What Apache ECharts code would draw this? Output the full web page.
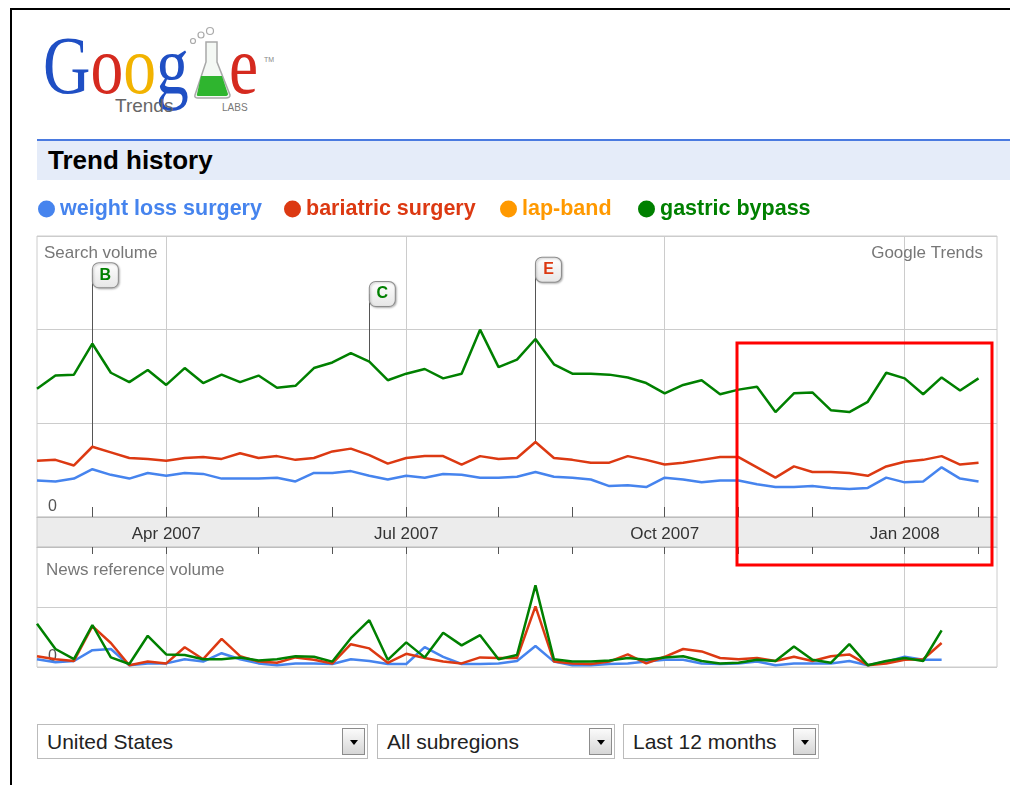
<!DOCTYPE html>
<html>
<head>
<meta charset="utf-8">
<title>Google Trends - Trend history</title>
<script src="https://cdn.jsdelivr.net/npm/echarts@6/dist/echarts.min.js"></script>
<style>
  html, body { margin: 0; padding: 0; background: #fff; }
  body { width: 1010px; height: 785px; position: relative; overflow: hidden;
         font-family: "Liberation Sans", Arial, sans-serif; }
  #frame { position: absolute; left: 10px; top: 8px; width: 1010px; height: 790px;
           border-left: 2px solid #000; border-top: 2px solid #000; }
  #logo { position: absolute; left: 0; top: 0; }
  #bar { position: absolute; left: 37px; top: 139px; width: 973px; height: 41px;
         background: #e5ecf9; border-top: 2px solid #4a7ae0;
         font-size: 26px; font-weight: bold; line-height: 39px; padding-left: 11px;
         box-sizing: border-box; color: #000; }
  .sel { position: absolute; top: 724px; height: 35px; border: 1px solid #bbb;
         box-sizing: border-box; font-size: 21px; line-height: 33px; padding-left: 9px; color: #222; }
  .sel .arr { position: absolute; right: 2px; top: 3px; width: 23px; height: 27px;
              border: 1px solid #8c8c8c; box-sizing: border-box;
              background: linear-gradient(#fbfbfb, #d6d6d6); }
  .sel .arr:after { content: ""; position: absolute; left: 7px; top: 11px;
                    border-left: 4px solid transparent; border-right: 4px solid transparent;
                    border-top: 5px solid #000; }
  #chart { position: absolute; left: 0; top: 0; width: 1010px; height: 785px; }
</style>
</head>
<body>
<div id="frame"></div>
<svg id="logo" width="300" height="130">
  <text transform="translate(43,93) scale(0.8,1)" font-family="Liberation Serif, serif" font-size="82"><tspan fill="#1f4fc4">G</tspan><tspan fill="#d52a1f">o</tspan><tspan fill="#f2b300">o</tspan><tspan fill="#1f4fc4">g</tspan></text>
  <path d="M206,42 L217,42 L217,62 L230,95 Q230,98 226,98 L198,98 Q194,98 195,95 L206,62 Z" fill="#f4f8f4" stroke="#a8a8a8" stroke-width="1.5"/>
  <path d="M201,76 L222,76 L228,94 Q228,96 225,96 L199,96 Q196,96 197,94 Z" fill="#2fb52f"/>
  <circle cx="193" cy="41" r="2.5" fill="none" stroke="#aaa" stroke-width="1.2"/>
  <circle cx="201" cy="35" r="3" fill="none" stroke="#aaa" stroke-width="1.2"/>
  <circle cx="210" cy="31" r="3.5" fill="none" stroke="#aaa" stroke-width="1.2"/>
  <text transform="translate(229,93) scale(0.8,1)" font-family="Liberation Serif, serif" font-size="82" fill="#d52a1f">e</text>
  <text x="264" y="62" font-family="Liberation Sans, sans-serif" font-size="7" fill="#888">TM</text>
  <text x="115" y="112" font-family="Liberation Sans, sans-serif" font-size="19" fill="#666">Trends</text>
  <text x="222" y="111" font-family="Liberation Sans, sans-serif" font-size="10" fill="#777">LABS</text>
</svg>
<div id="bar">Trend history</div>
<div class="sel" style="left:37px;width:331px;">United States<div class="arr"></div></div>
<div class="sel" style="left:377px;width:238px;">All subregions<div class="arr"></div></div>
<div class="sel" style="left:623px;width:196px;">Last 12 months<div class="arr"></div></div>
<div id="chart"></div>
<script>
// weekly categories (week start), Feb 2007 - Feb 2008
var weeks = [
  '2007-02-11', '2007-02-18', '2007-02-25', '2007-03-04', '2007-03-11', '2007-03-18', '2007-03-25',
  '2007-04-01', '2007-04-08', '2007-04-15', '2007-04-22', '2007-04-29', '2007-05-06', '2007-05-13',
  '2007-05-20', '2007-05-27', '2007-06-03', '2007-06-10', '2007-06-17', '2007-06-24', '2007-07-01',
  '2007-07-08', '2007-07-15', '2007-07-22', '2007-07-29', '2007-08-05', '2007-08-12', '2007-08-19',
  '2007-08-26', '2007-09-02', '2007-09-09', '2007-09-16', '2007-09-23', '2007-09-30', '2007-10-07',
  '2007-10-14', '2007-10-21', '2007-10-28', '2007-11-04', '2007-11-11', '2007-11-18', '2007-11-25',
  '2007-12-02', '2007-12-09', '2007-12-16', '2007-12-23', '2007-12-30', '2008-01-06', '2008-01-13',
  '2008-01-20', '2008-01-27', '2008-02-03', '2008-02-10'
];
var monthNames = ['Jan', 'Feb', 'Mar', 'Apr', 'May', 'Jun', 'Jul', 'Aug', 'Sep', 'Oct', 'Nov', 'Dec'];

var terms = ['weight loss surgery', 'bariatric surgery', 'lap-band', 'gastric bypass'];

// search volume
var searchWeightLoss = [
  0.39, 0.38, 0.41, 0.51, 0.45, 0.41, 0.47, 0.44, 0.47, 0.46,
  0.41, 0.41, 0.41, 0.42, 0.38, 0.47, 0.47, 0.49, 0.44, 0.40,
  0.44, 0.42, 0.46, 0.45, 0.42, 0.42, 0.43, 0.48, 0.43, 0.42,
  0.40, 0.33, 0.34, 0.32, 0.42, 0.40, 0.37, 0.39, 0.39, 0.35,
  0.32, 0.32, 0.33, 0.31, 0.30, 0.31, 0.42, 0.37, 0.38, 0.53,
  0.41, 0.38
];
var searchBariatric = [
  0.60, 0.61, 0.55, 0.75, 0.69, 0.63, 0.62, 0.60, 0.63, 0.64,
  0.62, 0.68, 0.63, 0.65, 0.61, 0.63, 0.70, 0.73, 0.66, 0.57,
  0.63, 0.65, 0.65, 0.56, 0.65, 0.62, 0.63, 0.80, 0.63, 0.61,
  0.58, 0.58, 0.65, 0.61, 0.56, 0.58, 0.61, 0.64, 0.64, 0.53,
  0.42, 0.54, 0.48, 0.48, 0.47, 0.44, 0.54, 0.59, 0.61, 0.65,
  0.56, 0.58
];
var searchLapBand = [];
var searchGastric = [
  1.37, 1.51, 1.52, 1.85, 1.54, 1.44, 1.57, 1.41, 1.59, 1.43,
  1.52, 1.44, 1.51, 1.38, 1.40, 1.59, 1.65, 1.75, 1.66, 1.46,
  1.53, 1.58, 1.48, 1.53, 2.00, 1.60, 1.68, 1.90, 1.63, 1.53,
  1.53, 1.52, 1.49, 1.43, 1.32, 1.41, 1.46, 1.31, 1.36, 1.39,
  1.12, 1.32, 1.33, 1.14, 1.12, 1.23, 1.54, 1.48, 1.31, 1.49,
  1.35, 1.48
];

// news reference volume
var newsWeightLoss = [
  0.13, 0.08, 0.10, 0.28, 0.30, 0.03, 0.06, 0.06, 0.13, 0.09,
  0.23, 0.13, 0.06, 0.03, 0.06, 0.06, 0.05, 0.13, 0.10, 0.05,
  0.05, 0.33, 0.17, 0.05, 0.05, 0.06, 0.10, 0.35, 0.09, 0.03,
  0.03, 0.05, 0.06, 0.09, 0.12, 0.12, 0.06, 0.05, 0.06, 0.09,
  0.03, 0.06, 0.06, 0.06, 0.10, 0.03, 0.09, 0.17, 0.12, 0.12
];
var newsBariatric = [
  0.18, 0.13, 0.10, 0.68, 0.40, 0.03, 0.09, 0.06, 0.33, 0.13,
  0.47, 0.18, 0.09, 0.07, 0.16, 0.12, 0.06, 0.38, 0.31, 0.07,
  0.22, 0.15, 0.09, 0.06, 0.16, 0.15, 0.15, 1.01, 0.09, 0.06,
  0.05, 0.09, 0.21, 0.06, 0.17, 0.30, 0.26, 0.15, 0.13, 0.15,
  0.10, 0.17, 0.10, 0.18, 0.21, 0.03, 0.06, 0.12, 0.13, 0.40
];
var newsLapBand = [];
var newsGastric = [
  0.72, 0.30, 0.13, 0.70, 0.16, 0.05, 0.52, 0.21, 0.20, 0.13,
  0.13, 0.16, 0.11, 0.13, 0.18, 0.17, 0.09, 0.48, 0.78, 0.12,
  0.41, 0.16, 0.57, 0.36, 0.53, 0.13, 0.20, 1.36, 0.13, 0.09,
  0.09, 0.11, 0.15, 0.12, 0.16, 0.18, 0.10, 0.06, 0.07, 0.12,
  0.10, 0.34, 0.12, 0.07, 0.38, 0.03, 0.10, 0.15, 0.10, 0.61
];

// news flags: letter, week, term the letter belongs to, term whose point the pole ends on
var flagLetters = ['B', 'C', 'E'];
var flagWeeks = [3, 18, 27];
var flagTerms = [3, 3, 1];
var flagAnchors = [1, 3, 1];

var searchData = [searchWeightLoss, searchBariatric, searchLapBand, searchGastric];
var newsData = [newsWeightLoss, newsBariatric, newsLapBand, newsGastric];

var colors = ['#4684ee', '#dc3912', '#ff9900', '#008000'];
var FONT = '"Liberation Sans", Arial, sans-serif';
var flagTop = [2.58, 2.38, 2.64]; // flag box centre, in search-volume units
var legendLeft = [38, 284, 500, 638];

function isMonthStart(i) { return +weeks[i].slice(8) <= 7; }
function isQuarterStart(i) { return isMonthStart(i) && (+weeks[i].slice(5, 7) - 1) % 3 === 0; }
function weekLabel(v) { return monthNames[+v.slice(5, 7) - 1] + ' ' + v.slice(0, 4); }

function xAxisFor(grid) {
  return {
    type: 'category',
    gridIndex: grid,
    data: weeks,
    boundaryGap: false,
    position: grid === 0 ? 'bottom' : 'top',
    axisLine: { show: true, onZero: false, lineStyle: { color: '#bdbdbd' } },
    axisTick: {
      show: true, inside: true, length: grid === 0 ? 10 : 7,
      interval: function (i) { return isMonthStart(i); },
      lineStyle: { color: '#555' }
    },
    axisLabel: {
      show: grid === 0, interval: function (i) { return isQuarterStart(i); },
      formatter: weekLabel, color: '#333', fontSize: 17, margin: 9, fontFamily: FONT
    },
    splitLine: {
      show: true, interval: function (i) { return isQuarterStart(i); },
      lineStyle: { color: '#cccccc' }
    }
  };
}

function yAxisFor(grid, max) {
  return {
    type: 'value', gridIndex: grid, min: 0, max: max, interval: 1,
    axisLine: { show: false }, axisTick: { show: false },
    splitLine: { lineStyle: { color: '#cccccc' } },
    axisLabel: {
      inside: true, margin: 11, verticalAlign: 'bottom', padding: [0, 0, 2, 0],
      color: '#555', fontSize: 16, fontFamily: FONT,
      formatter: function (v) { return v === 0 ? '0' : ''; }
    }
  };
}

function flagsOn(termIdx) {
  var lines = [], points = [];
  flagLetters.forEach(function (letter, k) {
    if (flagAnchors[k] !== termIdx) return;
    var w = flagWeeks[k];
    lines.push([{ coord: [w, searchData[termIdx][w]] }, { coord: [w, flagTop[k]] }]);
    points.push({
      coord: [w, flagTop[k]], value: letter,
      label: { color: colors[flagTerms[k]] }
    });
  });
  if (!lines.length) return {};
  return {
    markLine: {
      silent: true, symbol: ['none', 'none'], z: 3,
      label: { show: false },
      lineStyle: { type: 'solid', color: '#555', width: 1 },
      emphasis: { disabled: true },
      data: lines
    },
    markPoint: {
      silent: true, z: 6,
      symbol: 'roundRect', symbolSize: [26, 25], symbolOffset: [13, 0],
      itemStyle: {
        color: new echarts.graphic.LinearGradient(0, 0, 0, 1, [
          { offset: 0, color: '#ffffff' },
          { offset: 1, color: '#e6e6e6' }
        ]),
        borderColor: '#8d8d8d', borderWidth: 1,
        shadowColor: 'rgba(0,0,0,0.25)', shadowBlur: 2, shadowOffsetX: 1, shadowOffsetY: 1
      },
      label: {
        show: true, position: 'inside', fontSize: 16, fontWeight: 'bold', fontFamily: FONT,
        formatter: function (p) { return p.value; }
      },
      data: points
    }
  };
}

var series = [];
terms.forEach(function (name, i) {
  series.push(Object.assign({
    name: name, type: 'line', xAxisIndex: 0, yAxisIndex: 0,
    data: searchData[i], symbol: 'none', color: colors[i],
    lineStyle: { width: 2.5, color: colors[i] }
  }, flagsOn(i)));
});
terms.forEach(function (name, i) {
  series.push({
    name: name, type: 'line', xAxisIndex: 1, yAxisIndex: 1,
    data: newsData[i], symbol: 'none', color: colors[i],
    lineStyle: { width: 2.5, color: colors[i] }
  });
});

var chart = echarts.init(document.getElementById('chart'));
chart.setOption({
  animation: false,
  textStyle: { fontFamily: FONT },
  // one legend per term so each entry sits where Trends puts it
  legend: terms.map(function (t, i) {
    return {
      left: legendLeft[i], top: 198, icon: 'circle', itemWidth: 17, itemHeight: 17,
      selectedMode: false, padding: 0,
      textStyle: { fontSize: 21.5, fontWeight: 'bold', fontFamily: FONT, padding: [0, 0, 0, 0] },
      data: [{ name: t, textStyle: { color: colors[i] } }]
    };
  }),
  grid: [
    { left: 37, top: 236, width: 960, height: 281, show: true, borderColor: '#cccccc', borderWidth: 1 },
    { left: 37, top: 547, width: 960, height: 120, show: true, borderColor: '#cccccc', borderWidth: 1 }
  ],
  xAxis: [xAxisFor(0), xAxisFor(1)],
  yAxis: [yAxisFor(0, 3), yAxisFor(1, 2)],
  series: series,
  graphic: [
    { type: 'rect', z: -10, shape: { x: 37, y: 517, width: 960, height: 30 },
      style: { fill: '#ececec', stroke: '#c6c6c6', lineWidth: 1 } },
    { type: 'text', x: 44, y: 253, z: 1,
      style: { text: 'Search volume', fill: '#777', fontSize: 17, fontFamily: FONT, verticalAlign: 'middle' } },
    { type: 'text', x: 983, y: 253, z: 1,
      style: { text: 'Google Trends', fill: '#777', fontSize: 17, fontFamily: FONT, align: 'right', verticalAlign: 'middle' } },
    { type: 'text', x: 46, y: 570, z: 1,
      style: { text: 'News reference volume', fill: '#777', fontSize: 17, fontFamily: FONT, verticalAlign: 'middle' } },
    { type: 'rect', z: 100, shape: { x: 737, y: 343, width: 255, height: 222 },
      style: { fill: 'none', stroke: '#ff0000', lineWidth: 3 } }
  ]
});
</script>
</body>
</html>
